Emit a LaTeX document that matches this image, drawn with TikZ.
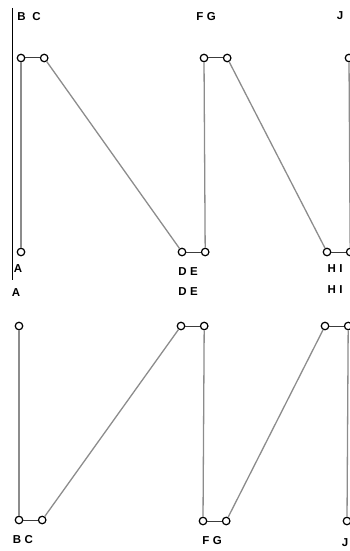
\documentclass[tikz,border=0pt]{standalone}
\usepackage{fontspec}
\setmainfont{Liberation Sans}
\newfontfamily\tagfont[LetterSpace=30]{Liberation Sans}
\usetikzlibrary{positioning}
\definecolor{barGray}{HTML}{8C8C8C}
\definecolor{linkGray}{HTML}{3C3C3C}
\tikzset{
  joint/.style={circle,draw=black,line width=1.2pt,inner sep=0pt,minimum size=7.5pt,fill=white},
  bar/.style={draw=barGray,line width=1.3pt},
  link/.style={draw=linkGray,line width=1pt},
  tag/.style={font=\tagfont\fontsize{11.5}{13}\selectfont\bfseries,inner sep=0pt}
}
\begin{document}
\begin{tikzpicture}[x=1pt,y=-1pt]
  \useasboundingbox (0,0) rectangle (350,551);
  % frame line on the left of the upper row
  \coordinate (frameTop) at (12,8);
  \coordinate (frameBot) at (12,280);
  \draw[line width=1pt] (frameTop) -- (frameBot);

  % upper row
  \node[joint] (tB) at (21,58) {};
  \node[joint,right=14.5pt of tB] (tC) {};
  \node[joint] (tA) at (21,252) {};
  \node[joint] (tD) at (182,252) {};
  \node[joint,right=14.5pt of tD] (tE) {};
  \node[joint] (tF) at (204,58) {};
  \node[joint,right=14.5pt of tF] (tG) {};
  \node[joint] (tH) at (327,252) {};
  \node[joint,right=14.5pt of tH] (tI) {};
  \node[joint] (tJ) at (349,58) {};

  \draw[bar] (tB) -- (tA);
  \draw[bar] (tC) -- (tD);
  \draw[bar] (tE) -- (tF);
  \draw[bar] (tG) -- (tH);
  \draw[bar] (tI) -- (tJ);
  \draw[link] (tB) -- (tC);
  \draw[link] (tD) -- (tE);
  \draw[link] (tF) -- (tG);
  \draw[link] (tH) -- (tI);

  \node[tag] (lBCt) at (29,17) {B C};
  \node[tag] (lFGt) at (206,17) {FG};
  \node[tag] (lJt) at (340,16) {J};
  \node[tag] (lAt) at (18,269) {A};
  \node[tag] (lDEt) at (188,272) {DE};
  \node[tag] (lHIt) at (335,269) {HI};

  % lower row
  \node[tag] (lAb) at (16,293) {A};
  \node[tag] (lDEb) at (188,292) {DE};
  \node[tag] (lHIb) at (335,290) {HI};

  \node[joint] (bA) at (19,326) {};
  \node[joint] (bB) at (19,520) {};
  \node[joint,right=14.5pt of bB] (bC) {};
  \node[joint] (bD) at (181,326) {};
  \node[joint,right=14.5pt of bD] (bE) {};
  \node[joint] (bF) at (203,521) {};
  \node[joint,right=14.5pt of bF] (bG) {};
  \node[joint] (bH) at (325,326) {};
  \node[joint,right=14.5pt of bH] (bI) {};
  \node[joint] (bJ) at (347,521) {};

  \draw[bar] (bA) -- (bB);
  \draw[bar] (bC) -- (bD);
  \draw[bar] (bE) -- (bF);
  \draw[bar] (bG) -- (bH);
  \draw[bar] (bI) -- (bJ);
  \draw[link] (bB) -- (bC);
  \draw[link] (bD) -- (bE);
  \draw[link] (bF) -- (bG);
  \draw[link] (bH) -- (bI);

  \node[tag] (lBCb) at (23,540) {BC};
  \node[tag] (lFGb) at (212,541) {FG};
  \node[tag] (lJb) at (345,543) {J};
\end{tikzpicture}
\end{document}
